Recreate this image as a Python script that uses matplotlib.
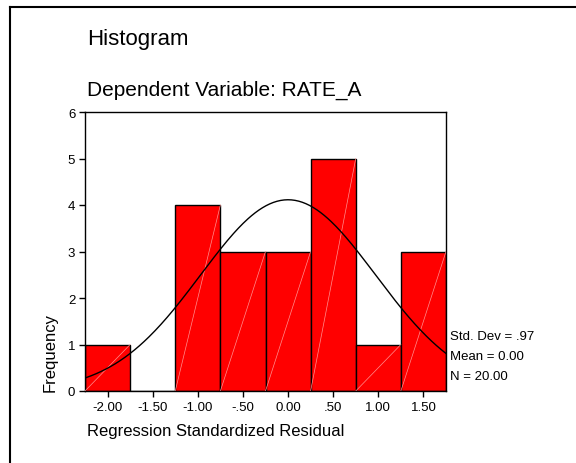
import numpy as np
import matplotlib.pyplot as plt
from matplotlib.lines import Line2D

plt.rcParams['font.family'] = ['Liberation Sans', 'DejaVu Sans']

# histogram data (bin centres and counts)
bin_centers = [-2.00, -1.50, -1.00, -0.50, 0.00, 0.50, 1.00, 1.50]
counts = [1, 0, 4, 3, 3, 5, 1, 3]
tick_labels = ['-2.00', '-1.50', '-1.00', '-.50', '0.00', '.50', '1.00', '1.50']
bin_width = 0.5

# summary stats shown in the chart
std_dev = 0.97
mean = 0.00
n = 20

fig = plt.figure(figsize=(5.76, 4.64), dpi=100)
ax = fig.add_axes([85 / 576, 1 - 392 / 464, (446 - 85) / 576, (392 - 113) / 464])

bars = ax.bar(bin_centers, counts, width=bin_width, color='#ff0000',
              edgecolor='black', linewidth=1.0, zorder=2)

# faint diagonal streaks inside each bar
for c, h in zip(bin_centers, counts):
    if h > 0:
        ax.plot([c - bin_width / 2, c + bin_width / 2], [0, h],
                color='#ff9090', lw=0.5, zorder=3)

# fitted normal curve
x = np.linspace(-2.25, 1.75, 300)
y = n * bin_width / (std_dev * np.sqrt(2 * np.pi)) * np.exp(-0.5 * ((x - mean) / std_dev) ** 2)
ax.plot(x, y, color='black', lw=1.0, zorder=4)

ax.set_xlim(-2.25, 1.75)
ax.set_ylim(0, 6)
ax.set_xticks(bin_centers)
ax.set_xticklabels(tick_labels)
ax.set_yticks(range(0, 7))
ax.tick_params(axis='both', direction='out', length=4, width=1, labelsize=9.5, pad=3)
for s in ax.spines.values():
    s.set_linewidth(1.0)

# titles and labels
fig.text(87 / 576, 1 - 40 / 464, 'Histogram', fontsize=16, va='center', ha='left')
fig.text(87 / 576, 1 - 90 / 464, 'Dependent Variable: RATE_A', fontsize=15, va='center', ha='left')
fig.text(87 / 576, 1 - 432 / 464, 'Regression Standardized Residual', fontsize=12,
         va='center', ha='left')
fig.text(50 / 576, 1 - 392 / 464, 'Frequency', fontsize=12, rotation=90,
         va='bottom', ha='center')

stats = ['Std. Dev = .97', 'Mean = 0.00', 'N = 20.00']
for i, t in enumerate(stats):
    fig.text(450 / 576, 1 - (337 + 20 * i) / 464, t, fontsize=9.5, va='center', ha='left')

# outer frame (left and top edges)
fig.add_artist(Line2D([10 / 576, 10 / 576], [0, 1 - 8 / 464], color='black', lw=1.5))
fig.add_artist(Line2D([10 / 576, 1], [1 - 8 / 464, 1 - 8 / 464], color='black', lw=1.5))

fig.savefig('out.png', dpi=100)
